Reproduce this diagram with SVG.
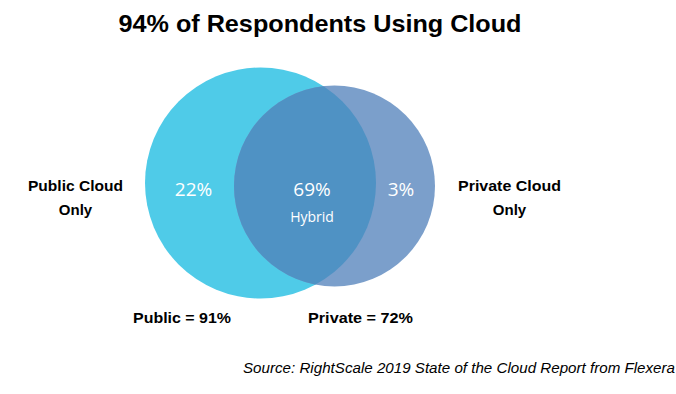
<svg xmlns="http://www.w3.org/2000/svg" width="676" height="394" viewBox="0 0 676 394">
<style>
.t{font-family:"Liberation Sans",Arial,sans-serif;fill:#000}
.b{font-weight:bold}
.w{fill:#fff;font-family:"Open Sans","Liberation Sans",sans-serif}
</style>
<defs>
<clipPath id="cp"><circle cx="260.5" cy="183" r="115.5"/></clipPath>
</defs>
<rect width="676" height="394" fill="#fff"/>
<text class="t b" x="320" y="32" font-size="24" text-anchor="middle" textLength="403" lengthAdjust="spacingAndGlyphs">94% of Respondents Using Cloud</text>
<g id="public">
<circle cx="260.5" cy="183" r="115.5" fill="#4FCBE8"/>
</g>
<g id="private">
<circle cx="334.5" cy="186" r="100.5" fill="#7B9FCB"/>
</g>
<g id="hybrid">
<circle cx="334.5" cy="186" r="100.5" fill="#4F92C4" clip-path="url(#cp)"/>
</g>
<g id="labels">
<text class="w" x="193.5" y="196" font-size="19" text-anchor="middle">22%</text>
<text class="w" x="312" y="196" font-size="19" text-anchor="middle">69%</text>
<text class="w" x="312" y="222" font-size="14" text-anchor="middle">Hybrid</text>
<text class="w" x="401" y="196" font-size="19" text-anchor="middle">3%</text>
<text class="t b" x="75.5" y="191" font-size="15" text-anchor="middle" textLength="95" lengthAdjust="spacingAndGlyphs">Public Cloud</text>
<text class="t b" x="75.5" y="215" font-size="15" text-anchor="middle">Only</text>
<text class="t b" x="509.5" y="191" font-size="15" text-anchor="middle" textLength="103" lengthAdjust="spacingAndGlyphs">Private Cloud</text>
<text class="t b" x="509.5" y="215" font-size="15" text-anchor="middle">Only</text>
<text class="t b" x="182" y="323" font-size="15" text-anchor="middle" textLength="98" lengthAdjust="spacingAndGlyphs">Public = 91%</text>
<text class="t b" x="360.5" y="323" font-size="15" text-anchor="middle" textLength="105" lengthAdjust="spacingAndGlyphs">Private = 72%</text>
<text class="t" x="243" y="373" font-size="14" font-style="italic" textLength="432" lengthAdjust="spacingAndGlyphs">Source: RightScale 2019 State of the Cloud Report from Flexera</text>
</g>
</svg>
